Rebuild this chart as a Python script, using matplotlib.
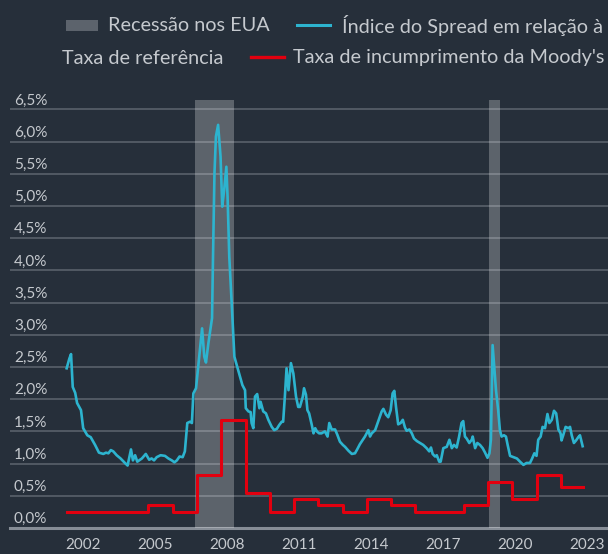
import matplotlib
matplotlib.use("Agg")
import matplotlib.pyplot as plt
from matplotlib.patches import Rectangle
from matplotlib.lines import Line2D

plt.rcParams['font.family'] = ['Lato', 'DejaVu Sans']

# spread index vs reference rate (%), decimal years
spread_t = [2002.63, 2002.74, 2002.81, 2002.88, 2002.98, 2003.06, 2003.22, 2003.31, 2003.48, 2003.62,
            2003.80, 2003.96, 2004.14, 2004.25, 2004.35, 2004.45, 2004.55, 2004.69, 2004.85, 2005.03,
            2005.14, 2005.28, 2005.36, 2005.45, 2005.54, 2005.73, 2005.89, 2006.03, 2006.13, 2006.23,
            2006.34, 2006.50, 2006.68, 2006.82, 2006.96, 2007.07, 2007.17, 2007.28, 2007.41, 2007.50,
            2007.60, 2007.71, 2007.79, 2007.85, 2007.96, 2008.05, 2008.21, 2008.30, 2008.37, 2008.47,
            2008.62, 2008.66, 2008.72, 2008.78, 2008.87, 2008.97, 2009.04, 2009.12, 2009.21, 2009.26,
            2009.33, 2009.43, 2009.54, 2009.66, 2009.77, 2009.87, 2009.98, 2010.01, 2010.12, 2010.21,
            2010.25, 2010.32, 2010.39, 2010.48, 2010.57, 2010.62, 2010.73, 2010.84, 2010.94, 2011.08,
            2011.18, 2011.29, 2011.39, 2011.49, 2011.55, 2011.62, 2011.69, 2011.77, 2011.87, 2011.97,
            2012.08, 2012.17, 2012.24, 2012.36, 2012.41, 2012.49, 2012.55, 2012.62, 2012.73, 2012.80,
            2012.87, 2012.94, 2013.03, 2013.13, 2013.27, 2013.38, 2013.45, 2013.55, 2013.69, 2013.78,
            2013.89, 2014.01, 2014.10, 2014.24, 2014.38, 2014.51, 2014.60, 2014.71, 2014.92, 2015.06,
            2015.13, 2015.20, 2015.34, 2015.47, 2015.61, 2015.68, 2015.79, 2015.88, 2015.98, 2016.06,
            2016.13, 2016.20, 2016.29, 2016.39, 2016.48, 2016.57, 2016.64, 2016.75, 2016.85, 2016.94,
            2017.06, 2017.19, 2017.32, 2017.46, 2017.57, 2017.64, 2017.71, 2017.81, 2017.88, 2017.98,
            2018.04, 2018.15, 2018.29, 2018.40, 2018.50, 2018.59, 2018.70, 2018.80, 2018.90, 2018.97,
            2019.04, 2019.11, 2019.22, 2019.32, 2019.36, 2019.46, 2019.55, 2019.66, 2019.77, 2019.87,
            2019.97, 2020.05, 2020.11, 2020.18, 2020.25, 2020.32, 2020.41, 2020.48, 2020.55, 2020.65,
            2020.73, 2020.80, 2020.90, 2021.04, 2021.18, 2021.31, 2021.45, 2021.58, 2021.72, 2021.81,
            2021.90, 2021.99, 2022.06, 2022.16, 2022.24, 2022.34, 2022.44, 2022.52, 2022.62, 2022.71,
            2022.80, 2022.89, 2022.98, 2023.02, 2023.09, 2023.19, 2023.30, 2023.37, 2023.44, 2023.53,
            2023.62, 2023.71, 2023.78, 2023.89]
spread = [2.48, 2.63, 2.70, 2.19, 2.10, 1.94, 1.83, 1.55, 1.44, 1.41,
          1.29, 1.17, 1.15, 1.17, 1.16, 1.21, 1.19, 1.13, 1.08, 1.01,
          0.97, 1.22, 1.05, 1.13, 1.03, 1.08, 1.15, 1.06, 1.08, 1.05,
          1.10, 1.13, 1.12, 1.08, 1.05, 1.02, 1.05, 1.11, 1.10, 1.19,
          1.63, 1.65, 1.63, 2.09, 2.17, 2.50, 3.10, 2.66, 2.57, 2.87,
          3.26, 4.21, 5.51, 6.08, 6.26, 5.77, 4.99, 5.25, 5.61, 5.14,
          4.21, 3.49, 2.66, 2.50, 2.35, 2.22, 2.14, 1.86, 1.81, 1.80,
          1.63, 1.55, 2.04, 2.08, 1.86, 1.96, 1.81, 1.78, 1.68, 1.57,
          1.52, 1.54, 1.60, 1.65, 1.65, 2.04, 2.48, 2.14, 2.56, 2.40,
          2.04, 1.88, 1.88, 2.04, 2.17, 2.07, 1.83, 1.78, 1.60, 1.47,
          1.55, 1.50, 1.47, 1.47, 1.50, 1.42, 1.63, 1.53, 1.53, 1.45,
          1.34, 1.29, 1.26, 1.20, 1.15, 1.16, 1.22, 1.30, 1.42, 1.52,
          1.42, 1.47, 1.52, 1.66, 1.81, 1.85, 1.76, 1.72, 1.83, 2.09,
          2.13, 1.88, 1.61, 1.63, 1.68, 1.56, 1.51, 1.53, 1.47, 1.39,
          1.35, 1.32, 1.29, 1.24, 1.19, 1.25, 1.15, 1.11, 1.13, 1.03,
          1.03, 1.24, 1.26, 1.37, 1.24, 1.29, 1.25, 1.42, 1.63, 1.66,
          1.42, 1.39, 1.32, 1.37, 1.42, 1.24, 1.32, 1.29, 1.24, 1.17,
          1.09, 1.16, 1.37, 2.84, 2.50, 2.14, 1.83, 1.52, 1.42, 1.44,
          1.42, 1.29, 1.12, 1.10, 1.08, 1.03, 0.98, 1.01, 1.01, 1.08,
          1.16, 1.12, 1.37, 1.42, 1.57, 1.55, 1.77, 1.63, 1.68, 1.82,
          1.78, 1.53, 1.47, 1.36, 1.44, 1.57, 1.55, 1.57, 1.44, 1.32,
          1.36, 1.41, 1.44, 1.27]

# Moody's default rate (%), annual steps
moody_t = [2002.63, 2003, 2004, 2005, 2006, 2007, 2008, 2009, 2010, 2011, 2012, 2013,
           2014, 2015, 2016, 2017, 2018, 2019, 2020, 2021, 2022, 2023, 2023.89]
moody = [0.25, 0.25, 0.25, 0.25, 0.36, 0.25, 0.82, 1.67, 0.54, 0.25, 0.45, 0.36,
         0.25, 0.45, 0.36, 0.25, 0.25, 0.36, 0.72, 0.45, 0.82, 0.63, 0.63]

recessions = [(2007.92, 2009.52), (2020.03, 2020.48)]
year_labels = [2002, 2005, 2008, 2011, 2014, 2017, 2020, 2023]
y_levels = [0.5, 1.0, 1.5, 2.0, 2.5, 3.0, 3.5, 4.0, 4.5, 5.0, 5.5, 6.0, 6.5]

bg = '#262f3a'
txt = '#c5c9ce'
grid_c = '#59616b'

fig = plt.figure(figsize=(6.08, 5.54), dpi=100, facecolor=bg)
ax = fig.add_axes([10/608, 1 - 528/554, 598/608, 428/554])
ax.set_facecolor(bg)
ax.set_xlim(2000.295, 2024.935)
ax.set_ylim(0, 6.646)

for v in y_levels:
    ax.axhline(v, color=grid_c, lw=1.2, zorder=1)
ax.axhline(0, color='#868d96', lw=2.2, zorder=1, clip_on=False)

# translucent recession bands over the grid
for a, b in recessions:
    ax.axvspan(a, b, color='white', alpha=0.25, lw=0, zorder=2)

for v in [0.0] + y_levels:
    ax.annotate(('%.1f%%' % v).replace('.', ','), xy=(4/598, v), xycoords=ax.get_yaxis_transform(),
                xytext=(0, 3.5), textcoords='offset points', ha='left', va='baseline',
                fontsize=11, color=txt)

ax.plot(spread_t, spread, color='#2db4cf', lw=1.9, zorder=4, solid_joinstyle='round')
ax.plot(moody_t, moody, color='#e2000f', lw=2.2, zorder=3, drawstyle='steps-post')

ax.set_xticks([y + 1.3 - 0.01 * (y - 2002) for y in year_labels])
ax.set_xticklabels([str(y) for y in year_labels])
ax.tick_params(axis='x', length=0, pad=7, labelsize=11, labelcolor=txt)
ax.set_yticks([])
for s in ax.spines.values():
    s.set_visible(False)

# legend drawn by hand (wrapped like the original)
W, H = 608, 554
def fx(px):
    return px / W
def fy(py):
    return 1 - py / H

fs = 14.3
fig.patches.append(Rectangle((fx(66), fy(30.5)), 32/W, 10/H, transform=fig.transFigure,
                             color='#5c636c', lw=0))
fig.text(fx(108), fy(25.5), 'Recessão nos EUA', color=txt, fontsize=fs, va='center', ha='left')
fig.lines.append(Line2D([fx(297), fx(330)], [fy(25.3), fy(25.3)], transform=fig.transFigure,
                        color='#2db4cf', lw=2.2))
fig.text(fx(342), fy(25.5), 'Índice do Spread em relação à', color=txt, fontsize=fs, va='center', ha='left')
fig.text(fx(62), fy(58), 'Taxa de referência', color=txt, fontsize=fs, va='center', ha='left')
fig.lines.append(Line2D([fx(251), fx(284)], [fy(57.3), fy(57.3)], transform=fig.transFigure,
                        color='#e2000f', lw=2.4))
fig.text(fx(293), fy(58), "Taxa de incumprimento da Moody's", color=txt, fontsize=fs, va='center', ha='left')

fig.savefig('out.png', dpi=100, facecolor=bg)
